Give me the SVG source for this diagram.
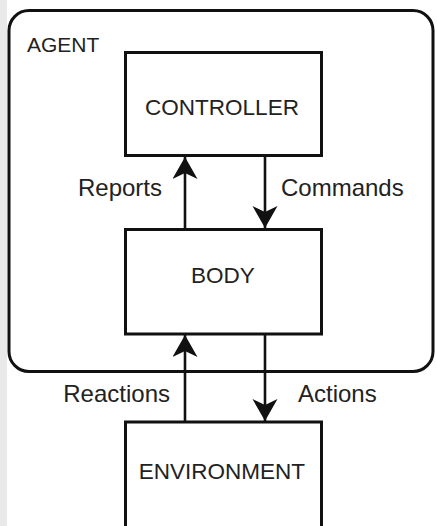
<svg xmlns="http://www.w3.org/2000/svg" width="437" height="526" viewBox="0 0 437 526">
<style>
.box{fill:#fff;stroke:#111;stroke-width:3}
.node{font-family:"Liberation Sans",Arial,sans-serif;font-size:22.5px;fill:#222;text-anchor:middle}
.lbl{font-family:"Liberation Sans",Arial,sans-serif;font-size:24px;fill:#222}
.conn{fill:none;stroke:#111;stroke-width:2.6}
</style>
<defs>
<marker id="ah" markerUnits="userSpaceOnUse" markerWidth="26" markerHeight="28" refX="22" refY="12.5" orient="auto">
<path d="M22,12.5 L0,0 L6,12.5 L0,25 Z" fill="#111"/>
</marker>
</defs>
<rect x="0" y="0" width="437" height="526" fill="#fff"/>
<rect x="0" y="0" width="7" height="526" fill="#e9e9e9"/>
<g id="agent">
<rect class="box" x="9" y="10.5" width="424" height="361" rx="20" ry="20"/>
<text class="lbl" x="27" y="52" style="font-size:21px">AGENT</text>
</g>
<g id="controller">
<rect class="box" x="125.5" y="52.5" width="196" height="103"/>
<text class="node" x="222" y="115">CONTROLLER</text>
</g>
<g id="body">
<rect class="box" x="125.5" y="229.5" width="196" height="104.5"/>
<text class="node" x="223" y="283">BODY</text>
</g>
<g id="environment">
<rect class="box" x="125.5" y="422" width="196" height="110"/>
<text class="node" x="222" y="479">ENVIRONMENT</text>
</g>
<g id="connectors">
<path class="conn" d="M185,229 L185,157" marker-end="url(#ah)"/>
<path class="conn" d="M265,156 L265,228" marker-end="url(#ah)"/>
<path class="conn" d="M185,422 L185,335" marker-end="url(#ah)"/>
<path class="conn" d="M265,334 L265,421" marker-end="url(#ah)"/>
<text class="lbl" x="162" y="196" text-anchor="end">Reports</text>
<text class="lbl" x="281" y="196">Commands</text>
<text class="lbl" x="170" y="402" text-anchor="end">Reactions</text>
<text class="lbl" x="298" y="402">Actions</text>
</g>
</svg>
